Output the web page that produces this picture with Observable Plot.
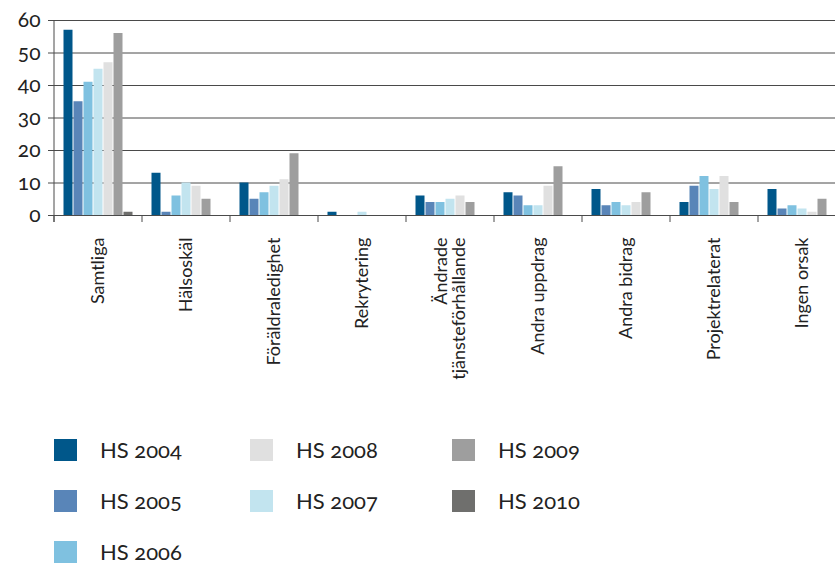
<!DOCTYPE html>
<html>
<head>
<meta charset="utf-8">
<script src="https://cdn.jsdelivr.net/npm/d3@7"></script>
<script src="https://cdn.jsdelivr.net/npm/@observablehq/plot@0.6"></script>
<style>
  html, body { margin: 0; padding: 0; background: #fff; overflow: hidden; }
  body { width: 835px; height: 565px; font-family: Lato, "Open Sans", sans-serif; }
  #chart { width: 835px; height: 420px; overflow: hidden; }
  #chart svg text, #chart svg tspan {
    font-variant-numeric: oldstyle-nums !important;
    font-feature-settings: "onum" 1 !important;
  }
  #legend {
    display: grid;
    grid-template-columns: 196px 202px 200px;
    grid-template-rows: repeat(3, 51px);
    grid-auto-flow: column;
    margin-left: 54px;
    padding-top: 19px;
    color: #222;
    font-size: 22px;
    font-feature-settings: "onum" 1;
  }
  .item { display: flex; align-items: center; gap: 23px; height: 22px; }
  .swatch { width: 23px; height: 22px; flex: none; }
  .item span { line-height: 22px; }
</style>
</head>
<body>
<div id="chart"></div>
<div id="legend"></div>
<script>
// Reasons given, per survey year (HS 2004–HS 2010)
const categories = [
  "Samtliga", "Hälsoskäl", "Föräldraledighet", "Rekrytering",
  "Ändrade\ntjänsteförhållande", "Andra uppdrag", "Andra bidrag",
  "Projektrelaterat", "Ingen orsak"
];
const series = ["HS 2004", "HS 2005", "HS 2006", "HS 2007", "HS 2008", "HS 2009", "HS 2010"];
const colors = ["#00578a", "#5985b8", "#7fc1e0", "#c2e4ef", "#e0e0e0", "#9e9e9e", "#6f6f6d"];

const hs2004 = [57, 13, 10, 1, 6, 7, 8, 4, 8];
const hs2005 = [35, 1, 5, 0, 4, 6, 3, 9, 2];
const hs2006 = [41, 6, 7, 0, 4, 3, 4, 12, 3];
const hs2007 = [45, 10, 9, 1, 5, 3, 3, 8, 2];
const hs2008 = [47, 9, 11, 0, 6, 9, 4, 12, 1];
const hs2009 = [56, 5, 19, 0, 4, 15, 7, 4, 5];
const hs2010 = [1, 0, 0, 0, 0, 0, 0, 0, 0];

const yTicks = [0, 10, 20, 30, 40, 50, 60];

// legend reading order: three columns, filled top to bottom
const legendOrder = ["HS 2004", "HS 2005", "HS 2006", "HS 2008", "HS 2007", null, "HS 2009", "HS 2010"];

const seriesValues = [hs2004, hs2005, hs2006, hs2007, hs2008, hs2009, hs2010];
const rows = [];
series.forEach((s, i) => {
  categories.forEach((c, j) => rows.push({category: c, series: s, value: seriesValues[i][j]}));
});

const chart = Plot.plot({
  width: 835,
  height: 420,
  marginLeft: 54,
  marginRight: -11,
  marginTop: 20,
  marginBottom: 205,
  style: {fontFamily: "Lato, 'Open Sans', sans-serif", color: "#222", background: "#fff"},
  fx: {domain: categories, padding: 0, label: null},
  x: {domain: series, paddingInner: 0, paddingOuter: 0.75, axis: null},
  y: {domain: [0, 60], label: null},
  color: {domain: series, range: colors},
  marks: [
    Plot.gridY(yTicks, {stroke: "#4a4a4a", strokeOpacity: 1, strokeWidth: 1}),
    Plot.barY(rows, {
      fx: "category", x: "series", y: "value", fill: "series",
      insetLeft: 0.5, insetRight: 0.5
    }),
    Plot.axisY(yTicks, {
      tickSize: 6, tickPadding: 8, fontSize: 21, stroke: "#4a4a4a",
      fontVariant: "normal", label: null, tickFormat: d => String(d)
    }),
    Plot.axisFx({
      anchor: "bottom", tickSize: 0, tickRotate: -90, tickPadding: 22,
      fontSize: 18, label: null
    })
  ]
});

// y axis line and category boundary ticks below the baseline
const fxScale = chart.scale("fx");
const yScale = chart.scale("y");
const y0 = yScale.apply(0);
const frame = d3.select(chart).append("g").attr("stroke", "#4a4a4a").attr("stroke-width", 1);
const leftEdge = fxScale.apply(categories[0]);
frame.append("line")
  .attr("x1", leftEdge).attr("x2", leftEdge)
  .attr("y1", yScale.apply(60)).attr("y2", y0 + 7);
frame.selectAll(".b").data(categories).join("line")
  .attr("x1", c => fxScale.apply(c)).attr("x2", c => fxScale.apply(c))
  .attr("y1", y0).attr("y2", y0 + 7);

document.getElementById("chart").appendChild(chart);

const legend = document.getElementById("legend");
for (const s of legendOrder) {
  const item = document.createElement("div");
  item.className = "item";
  if (s) {
    const sw = document.createElement("div");
    sw.className = "swatch";
    sw.style.background = colors[series.indexOf(s)];
    const label = document.createElement("span");
    label.textContent = s;
    item.append(sw, label);
  }
  legend.appendChild(item);
}
</script>
</body>
</html>
